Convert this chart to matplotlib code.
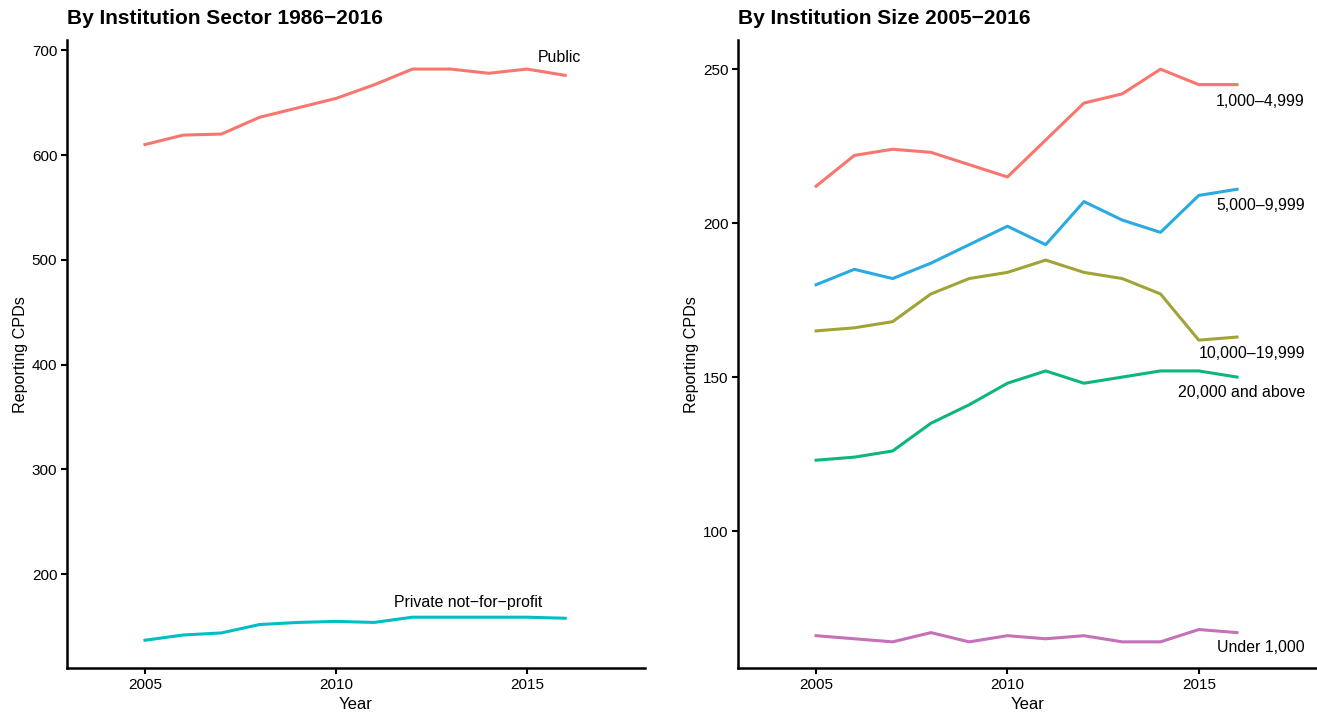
import matplotlib
matplotlib.use("Agg")
import matplotlib.pyplot as plt

plt.rcParams['font.family'] = ['Liberation Sans', 'DejaVu Sans']

years = list(range(2005, 2017))

# left panel: sector
public = [610, 619, 620, 636, 645, 654, 667, 682, 682, 678, 682, 676]
private = [137, 142, 144, 152, 154, 155, 154, 159, 159, 159, 159, 158]

# right panel: institution size
size_names = ['1,000–4,999', '5,000–9,999', '10,000–19,999', '20,000 and above', 'Under 1,000']
size_1k_5k = [212, 222, 224, 223, 219, 215, 227, 239, 242, 250, 245, 245]
size_5k_10k = [180, 185, 182, 187, 193, 199, 193, 207, 201, 197, 209, 211]
size_10k_20k = [165, 166, 168, 177, 182, 184, 188, 184, 182, 177, 162, 163]
size_20k_up = [123, 124, 126, 135, 141, 148, 152, 148, 150, 152, 152, 150]
size_under_1k = [66, 65, 64, 67, 64, 66, 65, 66, 64, 64, 68, 67]

size_colors = ['#F8766D', '#29ABE2', '#A0A437', '#0DB67A', '#C471B8']
size_label_y = [239.5, 205.8, 157.8, 145.0, 62.3]


def style_axis(ax):
    for s in ['top', 'right']:
        ax.spines[s].set_visible(False)
    for s in ['left', 'bottom']:
        ax.spines[s].set_linewidth(1.8)
    ax.tick_params(axis='both', length=4, width=1.5, labelsize=11, colors='black', pad=3)
    ax.set_xticks([2005, 2010, 2015])
    ax.set_xlim(2002.96, 2018.09)
    ax.set_xlabel('Year', fontsize=12, labelpad=4)
    ax.set_ylabel('Reporting CPDs', fontsize=11.6, labelpad=3)


fig = plt.figure(figsize=(13.17, 7.15), dpi=100)
ax1 = fig.add_axes([0.0509, 0.0657, 0.4389, 0.878])
ax2 = fig.add_axes([0.5604, 0.0657, 0.4396, 0.878])

ax1.plot(years, public, color='#F8766D', lw=2.2)
ax1.plot(years, private, color='#00BFC4', lw=2.2)
ax1.text(2015.86, 693, 'Public', fontsize=11.4, ha='center', va='center')
ax1.text(2013.46, 173, 'Private not−for−profit', fontsize=11.4, ha='center', va='center')
ax1.set_ylim(110.5, 709.5)
ax1.set_yticks([200, 300, 400, 500, 600, 700])
style_axis(ax1)
ax1.set_title('By Institution Sector 1986−2016', fontsize=15, fontweight='bold', loc='left', x=0.0, pad=12)

size_series = [size_1k_5k, size_5k_10k, size_10k_20k, size_20k_up, size_under_1k]
for name, vals, col, ly in zip(size_names, size_series, size_colors, size_label_y):
    ax2.plot(years, vals, color=col, lw=2.2)
    ax2.text(2017.77, ly, name, fontsize=11.4, ha='right', va='center')
ax2.set_ylim(55.5, 259.4)
ax2.set_yticks([100, 150, 200, 250])
style_axis(ax2)
ax2.set_title('By Institution Size 2005−2016', fontsize=15, fontweight='bold', loc='left', x=0.0, pad=12)

fig.savefig('out.png', dpi=100)
